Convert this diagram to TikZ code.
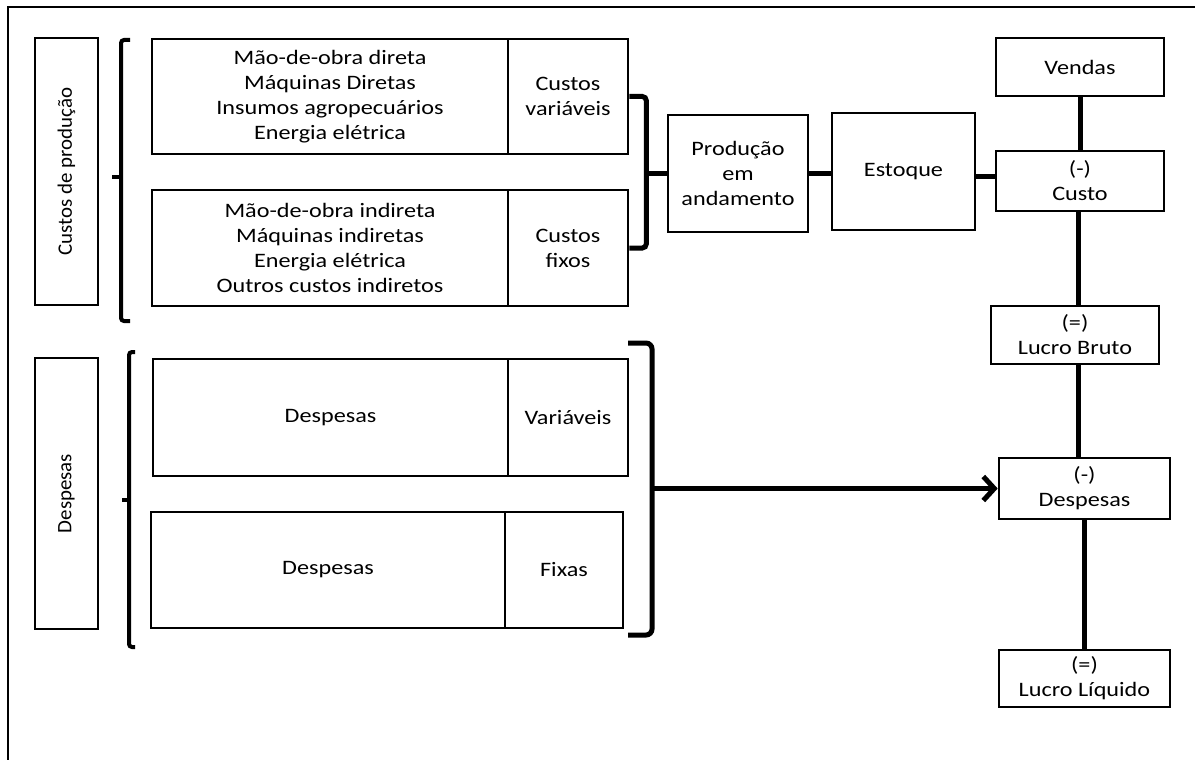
\documentclass[tikz,border=0pt]{standalone}
\usepackage{fontspec}
\setmainfont{Carlito}[FakeStretch=1.18]
\newfontfamily\uprightlabel{Carlito}[FakeStretch=1.02]
\usetikzlibrary{calc,arrows.meta}
\begin{document}
\begin{tikzpicture}[x=1pt,y=-1pt,
  txt/.style={font=\fontsize{20.5}{25}\selectfont},
  box/.style={draw, line width=2.6pt, inner sep=0pt, align=center, txt},
  sidebox/.style={box, rotate=90, font=\uprightlabel\fontsize{20.5}{25}\selectfont},
  conn/.style={line width=5pt},
  brk/.style={line width=4pt, rounded corners=3pt},
  frameline/.style={line width=2pt},
]
\useasboundingbox (0,0) rectangle (1195,760);

% frame (left and top edges only)
\coordinate (fbl) at (8,760);
\coordinate (ftl) at (8,7);
\coordinate (ftr) at (1195,7);
\draw[frameline] (fbl) -- (ftl) -- (ftr);

% ---- production costs ----
\node[sidebox, minimum width=267, minimum height=63] (lblcusto) at (66.5,171.5) {Custos de produção};

\node[box, minimum width=356, minimum height=115] (a1) at (330,96.5)
  {Mão-de-obra direta\\Máquinas Diretas\\Insumos agropecuários\\Energia elétrica};
\node[box, minimum width=120, minimum height=115] (a2) at (568,96.5) {Custos\\variáveis};

\node[box, minimum width=356, minimum height=116] (b1) at (330,248)
  {Mão-de-obra indireta\\Máquinas indiretas\\Energia elétrica\\Outros custos indiretos};
\node[box, minimum width=120, minimum height=116] (b2) at (568,248) {Custos\\fixos};

% left bracket of the production costs
\coordinate (l1t) at (130,40);
\coordinate (l1b) at (130,321);
\coordinate (l1tip) at (112,177);
\draw[brk] (l1t) -- (121,40) -- (121,321) -- (l1b);
\draw[line width=4pt] (121,177) -- (l1tip);

\node[box, minimum width=140, minimum height=117] (prod) at (738,173.5) {Produção\\em\\andamento};
\node[box, minimum width=143, minimum height=117] (estoque) at (903.5,171.5) {Estoque};

% bracket joining the two cost groups
\path (a2.east) ++(17,0) coordinate (r1top);
\coordinate (r1mid) at (r1top |- prod.west);
\draw[conn, rounded corners=4pt] (a2.east) -- (r1top) |- (b2.east);
\draw[conn] (r1mid) -- (prod.west);

\draw[conn] (prod.east) -- (prod.east -| estoque.west);

% ---- result column ----
\node[box, minimum width=168, minimum height=58] (vendas) at (1080,67) {Vendas};
\node[box, minimum width=168, minimum height=60] (custo) at (1080,181) {(-)\\Custo};
\node[box, minimum width=168, minimum height=58] (lbruto) at (1075,335) {(=)\\Lucro Bruto};
\node[box, minimum width=171, minimum height=61] (despr) at (1084.5,488.5) {(-)\\Despesas};
\node[box, minimum width=171, minimum height=57] (lliq) at (1084.5,678.5) {(=)\\Lucro Líquido};

\coordinate (estout) at ($(estoque.east)+(0,5)$);
\coordinate (custout) at ($(custo.south)+(-2,0)$);
\coordinate (brutout) at ($(lbruto.south)+(3,0)$);
\draw[conn] (estout) -- (estout -| custo.west);
\draw[conn] (vendas.south) -- (custo.north);
\draw[conn] (custout) -- (custout |- lbruto.north);
\draw[conn] (brutout) -- (brutout |- despr.north);
\draw[conn] (despr.south) -- (lliq.north);

% ---- expenses ----
\node[sidebox, minimum width=271, minimum height=63] (lbldesp) at (66.5,493.5) {Despesas};

\node[box, minimum width=355, minimum height=117] (c1) at (330.5,417.5) {Despesas};
\node[box, minimum width=120, minimum height=117] (c2) at (568,417.5) {Variáveis};

\node[box, minimum width=354, minimum height=116] (d1) at (328,570) {Despesas};
\node[box, minimum width=118, minimum height=116] (d2) at (564,570) {Fixas};

% left bracket of the expenses
\coordinate (l2t) at (135,352);
\coordinate (l2b) at (135,647);
\coordinate (l2tip) at (122,500);
\draw[brk] (l2t) -- (129,352) -- (129,647) -- (l2b);
\draw[line width=4pt] (129,500) -- (l2tip);

% right bracket of the expenses, leading to the result column
\coordinate (r2t) at (628,343);
\coordinate (r2b) at (628,635);
\coordinate (r2mid) at (652,488.5);
\draw[conn, rounded corners=6pt] (r2t) -- (652,343) -- (652,635) -- (r2b);
\draw[conn, -{Straight Barb[length=11pt,width=24pt]}] (r2mid) -- (despr.west);

\end{tikzpicture}
\end{document}
